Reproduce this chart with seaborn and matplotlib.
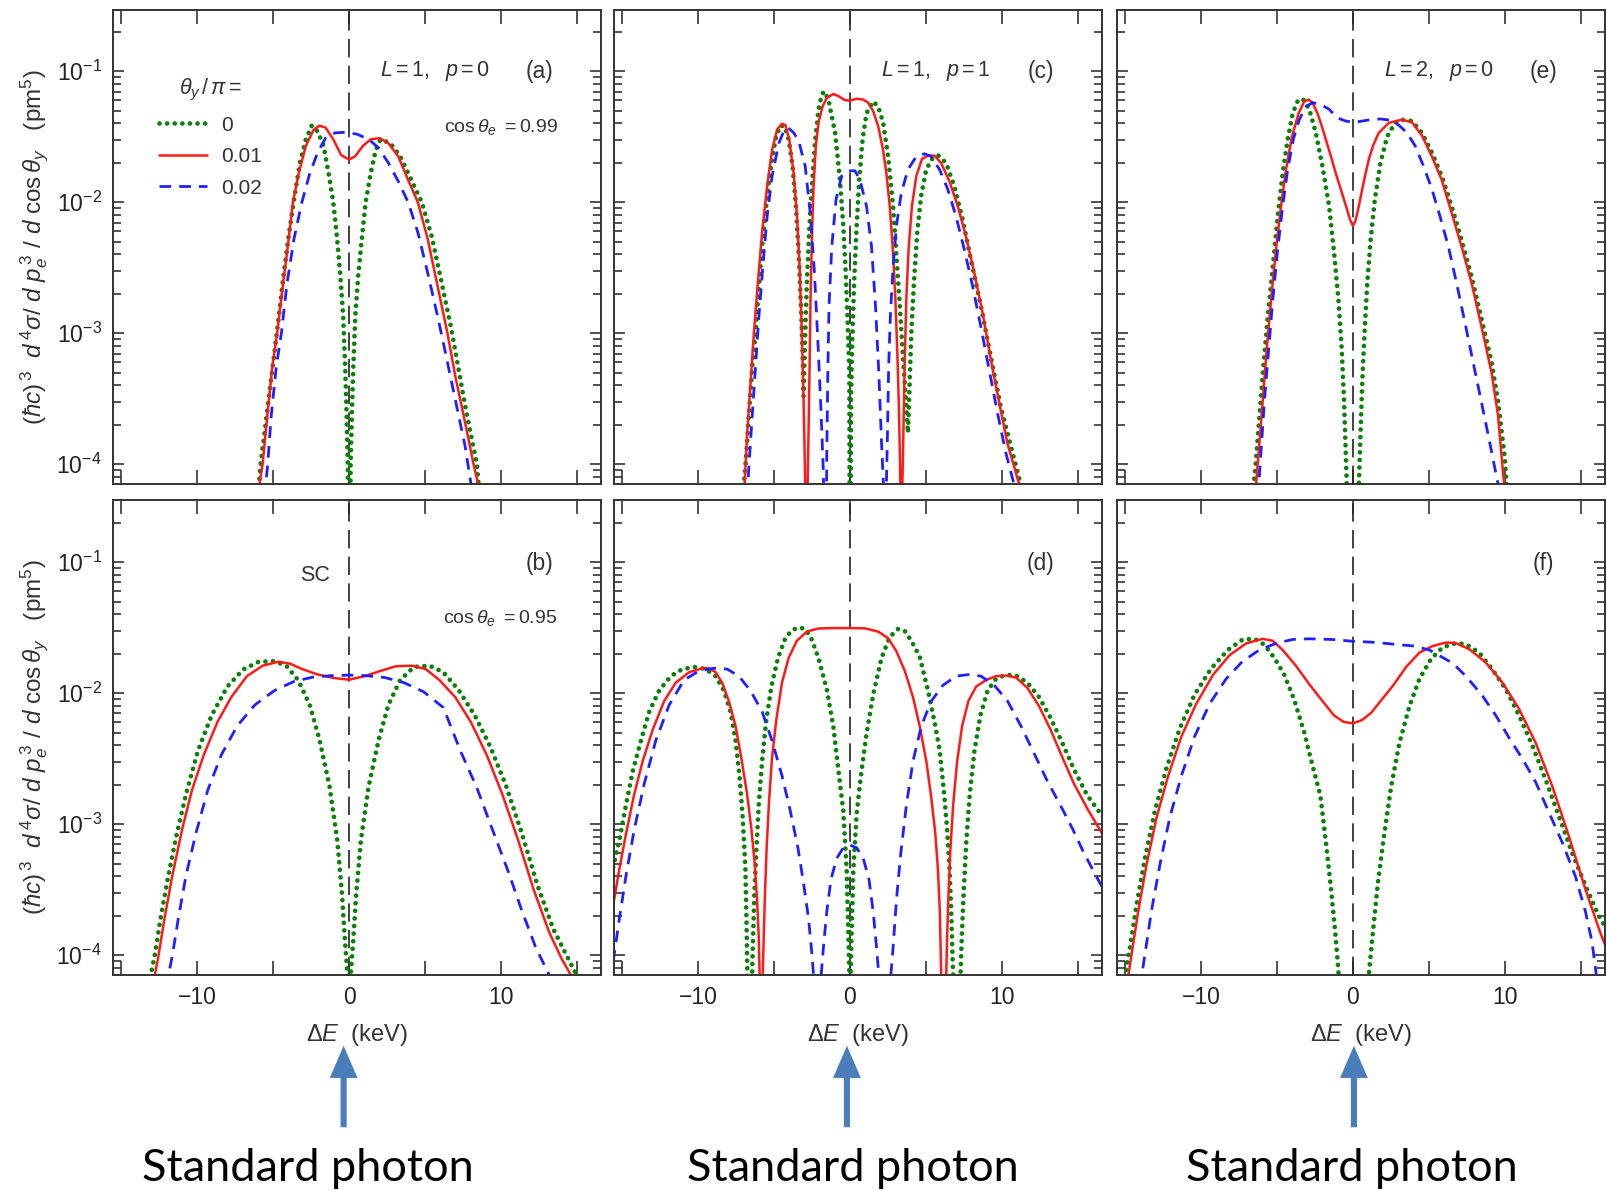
import numpy as np
import matplotlib
matplotlib.use("Agg")
import matplotlib.pyplot as plt
from matplotlib.patches import FancyArrowPatch
from matplotlib.ticker import LogLocator, NullFormatter
import seaborn as sns

# points: (dE in keV, log10 of the cross section)
# theta_y/pi = 0 (green dots), 0.01 (red line), 0.02 (blue dashes)

A_T0 = [(-6.1, -4.4), (-5.83, -4.0), (-5.57, -3.76), (-5.31, -3.51), (-4.92, -3.15), (-4.66, -2.9),
        (-4.35, -2.59), (-4.02, -2.29), (-3.63, -1.98), (-3.24, -1.70), (-2.85, -1.52), (-2.46, -1.415),
        (-2.07, -1.46), (-1.68, -1.57), (-1.35, -1.78), (-1.04, -2.0), (-0.78, -2.29), (-0.57, -2.57),
        (-0.39, -2.87), (-0.26, -3.25), (-0.16, -3.63), (-0.08, -4.02), (0.0, -6.0), (0.1, -4.02),
        (0.18, -3.63), (0.28, -3.25), (0.41, -2.87), (0.6, -2.56), (0.83, -2.29), (1.09, -2.0),
        (1.42, -1.78), (1.76, -1.6), (2.07, -1.52), (2.72, -1.55), (3.37, -1.65), (4.02, -1.81),
        (4.79, -2.0), (5.44, -2.26), (6.09, -2.61), (6.74, -2.97), (7.25, -3.3), (7.77, -3.63),
        (8.42, -4.0), (8.7, -4.4)]
A_T1 = [(-6.0, -4.4), (-5.9, -4.15), (-5.7, -4.0), (-5.39, -3.63), (-5.05, -3.25), (-4.74, -3.0),
        (-4.35, -2.62), (-4.02, -2.32), (-3.7, -2.0), (-3.32, -1.78), (-2.85, -1.57), (-2.33, -1.445),
        (-1.94, -1.415), (-1.55, -1.43), (-1.04, -1.52), (-0.52, -1.64), (0.0, -1.674), (0.39, -1.65),
        (0.91, -1.57), (1.42, -1.52), (2.02, -1.51), (2.59, -1.55), (3.24, -1.65), (3.89, -1.83),
        (4.53, -2.0), (5.18, -2.28), (5.83, -2.64), (6.48, -3.0), (7.0, -3.33), (7.64, -3.68),
        (8.2, -4.0), (8.5, -4.15), (8.7, -4.3)]
A_T2 = [(-5.6, -4.4), (-5.49, -4.15), (-5.36, -4.0), (-5.13, -3.63), (-4.79, -3.25), (-4.46, -3.0),
        (-4.09, -2.62), (-3.63, -2.28), (-3.11, -2.0), (-2.59, -1.78), (-2.07, -1.62), (-1.55, -1.51),
        (-0.91, -1.47), (-0.26, -1.466), (0.52, -1.48), (1.3, -1.52), (1.94, -1.585), (2.59, -1.70),
        (3.24, -1.84), (3.89, -2.0), (4.53, -2.23), (5.18, -2.54), (5.83, -2.87), (6.35, -3.15),
        (7.0, -3.51), (7.64, -3.86), (8.03, -4.15), (8.2, -4.3)]

B_T0 = [(-13.3, -4.4), (-13.07, -4.155), (-12.8, -4.0), (-12.42, -3.72), (-11.9, -3.39), (-11.38, -3.09),
        (-10.74, -2.77), (-9.96, -2.44), (-9.06, -2.17), (-8.02, -1.95), (-6.99, -1.82), (-5.95, -1.76),
        (-4.92, -1.756), (-4.14, -1.79), (-3.36, -1.90), (-2.59, -2.09), (-1.94, -2.36), (-1.29, -2.71),
        (-0.78, -3.12), (-0.47, -3.53), (-0.26, -3.91), (-0.1, -4.155), (0.0, -6.0), (0.1, -4.155),
        (0.26, -3.91), (0.47, -3.53), (0.78, -3.12), (1.29, -2.71), (1.94, -2.36), (2.59, -2.09),
        (3.36, -1.90), (4.27, -1.80), (5.3, -1.79), (6.21, -1.84), (7.24, -1.98), (8.28, -2.17),
        (9.31, -2.41), (10.35, -2.71), (11.38, -3.07), (12.42, -3.47), (13.45, -3.80), (14.23, -3.98),
        (15.0, -4.155), (15.3, -4.4)]
B_T1 = [(-13.0, -4.4), (-12.8, -4.155), (-12.55, -4.0), (-12.16, -3.72), (-11.64, -3.39), (-11.0, -3.04),
        (-10.35, -2.74), (-9.57, -2.47), (-8.67, -2.22), (-7.76, -2.03), (-6.73, -1.87), (-5.69, -1.79),
        (-4.66, -1.76), (-3.88, -1.775), (-3.1, -1.816), (-2.07, -1.857), (-1.03, -1.884), (0.0, -1.897),
        (1.03, -1.87), (2.07, -1.83), (3.1, -1.794), (4.14, -1.79), (5.05, -1.816), (5.95, -1.9),
        (6.99, -2.03), (8.02, -2.22), (9.06, -2.47), (10.09, -2.77), (11.13, -3.12), (12.16, -3.5),
        (13.2, -3.83), (13.97, -4.02), (14.62, -4.155), (14.9, -4.4)]
B_T2 = [(-12.1, -4.4), (-11.9, -4.155), (-11.64, -4.0), (-11.25, -3.72), (-10.74, -3.39), (-10.09, -3.07),
        (-9.31, -2.74), (-8.41, -2.47), (-7.37, -2.25), (-6.21, -2.09), (-4.92, -1.98), (-3.62, -1.91),
        (-2.33, -1.876), (-1.03, -1.865), (0.0, -1.862), (1.03, -1.866), (2.33, -1.88), (3.62, -1.92),
        (4.92, -1.99), (6.21, -2.11), (7.37, -2.45), (8.41, -2.72), (9.44, -3.04), (10.48, -3.36),
        (11.38, -3.66), (12.29, -3.94), (13.2, -4.155), (13.4, -4.4)]

C_T0 = [(-7.1, -4.4), (-6.99, -4.15), (-6.88, -4.0), (-6.66, -3.63), (-6.44, -3.25), (-6.22, -3.0),
        (-6.0, -2.64), (-5.79, -2.34), (-5.57, -2.08), (-5.35, -1.85), (-5.13, -1.67), (-4.87, -1.50),
        (-4.59, -1.415), (-4.30, -1.42), (-4.04, -1.52), (-3.78, -1.725), (-3.56, -2.03), (-3.38, -2.39),
        (-3.23, -2.79), (-3.12, -3.15), (-3.06, -3.48), (-2.95, -3.0), (-2.84, -2.62), (-2.69, -2.23),
        (-2.51, -1.88), (-2.29, -1.52), (-2.07, -1.29), (-1.86, -1.18), (-1.70, -1.153), (-1.42, -1.216),
        (-0.98, -1.47), (-0.66, -1.83), (-0.44, -2.18), (-0.28, -2.54), (-0.15, -2.92), (-0.04, -3.30),
        (0.0, -6.0), (0.07, -3.5), (0.15, -3.05), (0.28, -2.59), (0.44, -2.18), (0.61, -1.83),
        (0.83, -1.52), (1.09, -1.32), (1.53, -1.23), (1.86, -1.27), (2.18, -1.39), (2.51, -1.65),
        (2.84, -2.03), (3.06, -2.41), (3.28, -2.79), (3.49, -3.18), (3.71, -3.56), (3.82, -3.76),
        (3.93, -3.38), (4.04, -3.0), (4.21, -2.62), (4.43, -2.23), (4.69, -1.95), (5.02, -1.75),
        (5.46, -1.66), (5.83, -1.644), (6.33, -1.70), (6.88, -1.88), (7.42, -2.13), (7.97, -2.44),
        (8.62, -2.79), (9.28, -3.18), (9.93, -3.56), (10.59, -3.86), (11.24, -4.15), (11.5, -4.3)]
C_T1 = [(-7.05, -4.4), (-6.94, -4.15), (-6.77, -3.76), (-6.55, -3.38), (-6.33, -3.0), (-6.07, -2.62),
        (-5.79, -2.23), (-5.46, -1.88), (-5.13, -1.6), (-4.8, -1.445), (-4.48, -1.40), (-4.26, -1.41),
        (-4.0, -1.52), (-3.71, -1.78), (-3.49, -2.11), (-3.32, -2.49), (-3.17, -3.0), (-3.06, -3.5),
        (-2.99, -3.89), (-2.95, -4.15), (-2.88, -6.0), (-2.79, -4.15), (-2.73, -3.76), (-2.66, -3.25),
        (-2.6, -2.74), (-2.51, -2.28), (-2.4, -1.88), (-2.25, -1.57), (-2.07, -1.39), (-1.81, -1.27),
        (-1.53, -1.204), (-1.09, -1.173), (-0.76, -1.19), (-0.33, -1.22), (0.0, -1.224), (0.44, -1.21),
        (0.87, -1.216), (1.2, -1.24), (1.53, -1.305), (1.86, -1.42), (2.18, -1.6), (2.4, -1.78),
        (2.62, -2.03), (2.84, -2.39), (2.99, -2.74), (3.12, -3.15), (3.21, -3.51), (3.28, -3.89),
        (3.32, -4.15), (3.39, -6.0), (3.45, -4.15), (3.52, -3.76), (3.6, -3.25), (3.71, -2.74),
        (3.86, -2.36), (4.08, -2.03), (4.37, -1.80), (4.74, -1.67), (5.13, -1.644), (5.57, -1.644),
        (6.0, -1.70), (6.55, -1.84), (7.1, -2.03), (7.64, -2.26), (8.19, -2.54), (8.73, -2.84),
        (9.28, -3.2), (9.83, -3.53), (10.37, -3.84), (11.14, -4.15), (11.4, -4.3)]
C_T2 = [(-6.85, -4.4), (-6.72, -4.15), (-6.66, -4.02), (-6.44, -3.63), (-6.22, -3.25), (-6.0, -2.87),
        (-5.74, -2.49), (-5.46, -2.11), (-5.13, -1.80), (-4.69, -1.55), (-4.37, -1.46), (-4.08, -1.43),
        (-3.71, -1.47), (-3.38, -1.53), (-2.95, -1.725), (-2.62, -2.08), (-2.34, -2.54), (-2.12, -3.05),
        (-1.92, -3.56), (-1.75, -4.07), (-1.62, -6.0), (-1.53, -3.94), (-1.46, -3.30), (-1.38, -2.79),
        (-1.2, -2.34), (-0.92, -1.98), (-0.55, -1.80), (-0.11, -1.76), (0.33, -1.76), (0.66, -1.83),
        (1.09, -2.03), (1.42, -2.34), (1.68, -2.79), (1.9, -3.3), (2.07, -3.81), (2.2, -4.15),
        (2.3, -6.0), (2.4, -4.15), (2.47, -3.76), (2.55, -3.25), (2.66, -2.87), (2.84, -2.49),
        (3.06, -2.18), (3.38, -1.93), (3.82, -1.75), (4.37, -1.65), (4.91, -1.63), (5.35, -1.65),
        (5.9, -1.75), (6.44, -1.9), (6.99, -2.11), (7.53, -2.36), (8.08, -2.64), (8.62, -2.95),
        (9.17, -3.28), (9.72, -3.61), (10.26, -3.91), (10.8, -4.15), (11.0, -4.3)]

D_T0 = [(-15.6, -3.33), (-15.19, -3.12), (-14.75, -2.85), (-14.32, -2.6), (-13.77, -2.36), (-13.22, -2.14),
        (-12.57, -1.98), (-11.8, -1.87), (-11.04, -1.816), (-10.16, -1.80), (-9.51, -1.816), (-8.85, -1.87),
        (-8.31, -1.98), (-7.87, -2.14), (-7.54, -2.36), (-7.28, -2.63), (-7.06, -2.96), (-6.89, -3.34),
        (-6.82, -3.72), (-6.78, -4.0), (-6.76, -4.155), (-6.6, -6.0), (-6.45, -4.155), (-6.38, -3.85),
        (-6.3, -3.53), (-6.16, -3.18), (-6.01, -2.85), (-5.79, -2.52), (-5.53, -2.22), (-5.18, -1.95),
        (-4.74, -1.73), (-4.26, -1.58), (-3.83, -1.52), (-3.43, -1.50), (-3.06, -1.505), (-2.62, -1.56),
        (-2.08, -1.73), (-1.53, -1.97), (-1.09, -2.26), (-0.72, -2.63), (-0.44, -2.90), (-0.22, -3.35),
        (-0.11, -3.81), (-0.04, -4.155), (0.0, -6.0), (0.04, -4.155), (0.11, -3.81), (0.22, -3.35),
        (0.44, -2.92), (0.72, -2.63), (1.09, -2.31), (1.53, -2.01), (2.08, -1.73), (2.62, -1.57),
        (3.17, -1.51), (3.61, -1.525), (4.04, -1.6), (4.59, -1.72), (5.14, -1.98), (5.57, -2.22),
        (5.9, -2.43), (6.18, -2.74), (6.4, -3.04), (6.56, -3.34), (6.67, -3.67), (6.75, -3.99),
        (6.8, -4.155), (7.0, -6.0), (7.28, -4.155), (7.37, -3.85), (7.5, -3.5), (7.67, -3.12),
        (7.89, -2.77), (8.2, -2.44), (8.59, -2.17), (9.07, -1.98), (9.62, -1.89), (10.27, -1.86),
        (10.93, -1.865), (11.69, -1.92), (12.46, -2.03), (13.22, -2.19), (13.99, -2.38), (14.75, -2.58),
        (15.63, -2.78), (16.7, -2.95)]
D_T1 = [(-15.6, -3.62), (-15.19, -3.34), (-14.75, -3.07), (-14.21, -2.77), (-13.66, -2.52), (-13.0, -2.28),
        (-12.24, -2.06), (-11.48, -1.92), (-10.6, -1.84), (-9.73, -1.81), (-9.29, -1.81), (-8.85, -1.84),
        (-8.42, -1.92), (-7.98, -2.06), (-7.54, -2.25), (-7.15, -2.5), (-6.78, -2.77), (-6.49, -3.04),
        (-6.27, -3.31), (-6.12, -3.58), (-6.01, -3.86), (-5.95, -4.155), (-5.85, -6.0), (-5.75, -4.155),
        (-5.68, -3.86), (-5.6, -3.53), (-5.49, -3.18), (-5.33, -2.82), (-5.14, -2.5), (-4.85, -2.2),
        (-4.48, -1.92), (-4.04, -1.73), (-3.5, -1.6), (-2.84, -1.53), (-2.08, -1.506), (-1.2, -1.503),
        (0.0, -1.503), (0.98, -1.505), (1.86, -1.53), (2.51, -1.58), (3.06, -1.68), (3.61, -1.83),
        (4.15, -2.03), (4.59, -2.25), (5.03, -2.52), (5.36, -2.8), (5.62, -3.07), (5.79, -3.34),
        (5.92, -3.67), (6.01, -4.155), (6.17, -6.0), (6.34, -4.155), (6.4, -3.86), (6.49, -3.53),
        (6.62, -3.18), (6.8, -2.85), (7.06, -2.52), (7.39, -2.25), (7.8, -2.06), (8.31, -1.95),
        (8.96, -1.90), (9.62, -1.87), (10.27, -1.865), (10.93, -1.88), (11.69, -1.96), (12.46, -2.1),
        (13.22, -2.28), (13.99, -2.49), (14.75, -2.69), (15.63, -2.88), (16.7, -3.09)]
D_T2 = [(-15.6, -4.05), (-15.19, -3.72), (-14.75, -3.39), (-14.21, -3.04), (-13.55, -2.69), (-12.79, -2.36),
        (-11.91, -2.09), (-10.93, -1.90), (-9.95, -1.83), (-8.96, -1.81), (-8.09, -1.816), (-7.32, -1.87),
        (-6.56, -1.98), (-5.79, -2.14), (-5.14, -2.36), (-4.48, -2.63), (-3.93, -2.90), (-3.43, -3.18),
        (-3.06, -3.45), (-2.73, -3.72), (-2.51, -3.99), (-2.4, -4.155), (-2.15, -6.0), (-1.9, -4.155),
        (-1.75, -3.94), (-1.53, -3.67), (-1.25, -3.42), (-0.87, -3.26), (-0.44, -3.18), (0.0, -3.16),
        (0.44, -3.18), (0.87, -3.26), (1.25, -3.42), (1.53, -3.67), (1.75, -3.94), (1.9, -4.155),
        (2.3, -6.0), (2.69, -4.155), (2.84, -3.94), (3.06, -3.58), (3.34, -3.23), (3.72, -2.85),
        (4.15, -2.52), (4.7, -2.25), (5.36, -2.06), (6.12, -1.94), (6.99, -1.87), (7.87, -1.857),
        (8.63, -1.87), (9.51, -1.94), (10.38, -2.06), (11.26, -2.25), (12.13, -2.46), (13.0, -2.67),
        (13.88, -2.86), (14.64, -3.03), (15.41, -3.22), (16.7, -3.5)]

E_T0 = [(-6.7, -4.4), (-6.53, -4.15), (-6.38, -3.96), (-6.16, -3.63), (-5.9, -3.25), (-5.61, -2.87),
        (-5.28, -2.49), (-4.96, -2.11), (-4.63, -1.78), (-4.3, -1.52), (-3.97, -1.32), (-3.6, -1.216),
        (-3.28, -1.216), (-2.88, -1.29), (-2.45, -1.47), (-2.01, -1.725), (-1.57, -2.03), (-1.24, -2.39),
        (-0.96, -2.74), (-0.74, -3.12), (-0.59, -3.51), (-0.48, -3.89), (-0.41, -4.15), (0.0, -6.0),
        (0.39, -4.15), (0.5, -3.76), (0.61, -3.38), (0.76, -3.0), (0.94, -2.62), (1.16, -2.29),
        (1.44, -1.98), (1.81, -1.70), (2.25, -1.50), (2.79, -1.39), (3.34, -1.37), (3.89, -1.38),
        (4.54, -1.47), (5.2, -1.62), (5.85, -1.80), (6.5, -2.03), (7.16, -2.29), (7.82, -2.57),
        (8.47, -2.89), (9.13, -3.22), (9.56, -3.52), (10.0, -3.95), (10.2, -4.3)]
E_T1 = [(-6.5, -4.4), (-6.38, -4.15), (-6.2, -3.89), (-5.94, -3.51), (-5.68, -3.12), (-5.39, -2.74),
        (-5.07, -2.36), (-4.74, -2.03), (-4.41, -1.75), (-4.02, -1.5), (-3.58, -1.32), (-3.21, -1.23),
        (-2.93, -1.216), (-2.66, -1.24), (-2.34, -1.32), (-2.05, -1.42), (-1.79, -1.52), (-1.45, -1.65),
        (-1.14, -1.776), (-0.83, -1.89), (-0.59, -1.98), (-0.38, -2.06), (-0.2, -2.13), (0.0, -2.18),
        (0.17, -2.14), (0.35, -2.05), (0.61, -1.90), (0.83, -1.78), (1.05, -1.67), (1.35, -1.56),
        (1.7, -1.47), (2.36, -1.394), (3.23, -1.369), (3.89, -1.39), (4.54, -1.49), (5.2, -1.65),
        (5.85, -1.83), (6.5, -2.08), (7.16, -2.34), (7.82, -2.62), (8.47, -2.95), (9.13, -3.30),
        (9.56, -3.63), (9.89, -4.07), (10.1, -4.3)]
E_T2 = [(-6.35, -4.4), (-6.2, -4.15), (-6.05, -3.89), (-5.83, -3.51), (-5.55, -3.12), (-5.28, -2.74),
        (-4.96, -2.36), (-4.63, -2.03), (-4.3, -1.75), (-3.93, -1.52), (-3.54, -1.37), (-3.1, -1.27),
        (-2.66, -1.24), (-2.12, -1.254), (-1.57, -1.29), (-1.03, -1.356), (-0.48, -1.38), (0.07, -1.39),
        (0.61, -1.38), (1.16, -1.37), (1.81, -1.364), (2.47, -1.374), (3.01, -1.41), (3.56, -1.47),
        (4.1, -1.57), (4.65, -1.725), (5.2, -1.90), (5.74, -2.11), (6.29, -2.34), (6.83, -2.62),
        (7.38, -2.92), (7.93, -3.23), (8.47, -3.53), (9.02, -3.84), (9.45, -4.09), (9.56, -4.15),
        (9.7, -4.3)]

F_T0 = [(-15.3, -4.4), (-15.02, -4.16), (-14.69, -3.94), (-14.25, -3.61), (-13.7, -3.26), (-13.05, -2.90),
        (-12.28, -2.57), (-11.41, -2.27), (-10.43, -2.01), (-9.33, -1.81), (-8.24, -1.67), (-7.26, -1.59),
        (-6.49, -1.585), (-5.84, -1.63), (-5.18, -1.73), (-4.52, -1.86), (-3.87, -2.05), (-3.21, -2.30),
        (-2.67, -2.55), (-2.15, -2.78), (-1.8, -3.12), (-1.45, -3.49), (-1.17, -3.82), (-0.97, -4.1),
        (0.0, -6.0), (1.05, -4.14), (1.31, -3.83), (1.64, -3.45), (2.08, -3.06), (2.52, -2.71),
        (3.06, -2.38), (3.72, -2.10), (4.38, -1.89), (5.14, -1.74), (5.91, -1.65), (6.78, -1.618),
        (7.44, -1.626), (8.31, -1.69), (9.19, -1.82), (10.07, -1.97), (10.94, -2.17), (11.82, -2.40),
        (12.69, -2.66), (13.57, -2.94), (14.44, -3.22), (15.32, -3.47), (16.19, -3.70), (16.7, -3.8)]
F_T1 = [(-15.0, -4.4), (-14.8, -4.16), (-14.58, -3.99), (-14.14, -3.66), (-13.6, -3.31), (-12.94, -2.95),
        (-12.17, -2.63), (-11.3, -2.33), (-10.32, -2.08), (-9.22, -1.86), (-8.13, -1.71), (-7.04, -1.62),
        (-5.95, -1.585), (-5.29, -1.60), (-4.63, -1.67), (-3.76, -1.79), (-2.89, -1.93), (-2.01, -2.06),
        (-1.25, -2.17), (-0.6, -2.22), (0.0, -2.23), (0.6, -2.205), (1.2, -2.15), (1.75, -2.07),
        (2.63, -1.944), (3.5, -1.80), (4.38, -1.69), (5.25, -1.64), (6.13, -1.613), (6.78, -1.618),
        (7.66, -1.664), (8.75, -1.766), (9.85, -1.92), (10.94, -2.12), (12.04, -2.38), (13.13, -2.71),
        (14.22, -3.09), (15.32, -3.50), (16.3, -3.83), (16.7, -3.95)]
F_T2 = [(-14.1, -4.4), (-13.92, -4.16), (-13.7, -3.99), (-13.27, -3.66), (-12.72, -3.31), (-12.07, -2.95),
        (-11.3, -2.63), (-10.43, -2.33), (-9.44, -2.08), (-8.35, -1.89), (-7.26, -1.755), (-6.16, -1.67),
        (-5.07, -1.62), (-3.98, -1.59), (-2.89, -1.585), (-1.36, -1.59), (0.0, -1.604), (1.5, -1.612),
        (2.84, -1.628), (4.0, -1.64), (5.03, -1.67), (6.56, -1.77), (7.44, -1.87), (8.53, -2.02),
        (9.41, -2.17), (10.28, -2.34), (11.16, -2.50), (12.04, -2.68), (12.91, -2.91), (13.79, -3.14),
        (14.66, -3.40), (15.32, -3.67), (15.75, -3.90), (16.02, -4.14), (16.2, -4.4)]

THETA_LABELS = ["0", "0.01", "0.02"]
PANEL_TAGS = ["(a)", "(b)", "(c)", "(d)", "(e)", "(f)"]
PANEL_HEADS = [r"$L=1,\ \ p=0$", "", r"$L=1,\ \ p=1$", "", r"$L=2,\ \ p=0$", ""]
COS_TEXTS = [r"$\cos\theta_e\ = 0.99$", r"$\cos\theta_e\ = 0.95$"]
X_TICKS = [-15, -10, -5, 0, 5, 10, 15]
X_TICK_LABELS = ["", "\u221210", "", "0", "", "10", ""]
Y_TICKS = [1e-4, 1e-3, 1e-2, 1e-1]
Y_TICK_LABELS = [r"$10^{-4}$", r"$10^{-3}$", r"$10^{-2}$", r"$10^{-1}$"]
PHOTON_TEXT = "Standard photon"

sns.set_theme(style="ticks")
plt.rcParams["font.family"] = ["Liberation Sans", "DejaVu Sans"]
plt.rcParams["mathtext.fontset"] = "custom"
plt.rcParams["mathtext.rm"] = "Liberation Sans"
plt.rcParams["mathtext.it"] = "Liberation Sans:italic"
plt.rcParams["mathtext.bf"] = "Liberation Sans:bold"
plt.rcParams["mathtext.sf"] = "Liberation Sans"

STYLES = [
    dict(color="#0b800b", linewidth=3.4, linestyle=(0, (0.01, 1.6)), dash_capstyle="round"),
    dict(color="#ff1a1a", linewidth=1.8, linestyle="-"),
    dict(color="#1f1fff", linewidth=2.0, linestyle=(0, (4.2, 2.9))),
]
TXT = "#333333"

fig = plt.figure(figsize=(16.08, 11.91), dpi=100)
lefts = [0.0703, 0.3818, 0.6946]
bottoms = [0.5936, 0.1814]
W, H = 0.3035, 0.3984

panels = [
    (A_T0, A_T1, A_T2), (B_T0, B_T1, B_T2),
    (C_T0, C_T1, C_T2), (D_T0, D_T1, D_T2),
    (E_T0, E_T1, E_T2), (F_T0, F_T1, F_T2),
]

for k, curves in enumerate(panels):
    col, row = k // 2, k % 2
    ax = fig.add_axes([lefts[col], bottoms[row], W, H])
    ax.set_yscale("log")
    ax.axvline(0, color="#222222", lw=1.2, ls=(0, (11, 5)), zorder=1.5)
    for pts, st, lab in zip(curves, STYLES, THETA_LABELS):
        xs, lg = np.array(pts).T
        sns.lineplot(x=xs, y=np.power(10.0, lg), ax=ax, sort=False, estimator=None,
                     label=lab if k == 0 else None, legend=False, zorder=2, **st)
    ax.set_xlim(-15.55, 16.6)
    ax.set_ylim(7.06e-5, 0.296)

    ax.set_xticks(X_TICKS)
    ax.set_xticklabels(X_TICK_LABELS if row == 1 else [""] * len(X_TICKS))
    ax.set_yticks(Y_TICKS)
    ax.set_yticklabels(Y_TICK_LABELS if col == 0 else [""] * len(Y_TICKS))
    ax.yaxis.set_minor_locator(LogLocator(base=10, subs=np.arange(2, 10), numticks=20))
    ax.yaxis.set_minor_formatter(NullFormatter())
    ax.tick_params(which="both", direction="in", top=True, right=True, color="#333333", width=1.2)
    ax.tick_params(axis="x", which="major", length=10, pad=8, labelsize=16.5, labelcolor="#222222")
    ax.tick_params(axis="y", which="major", length=8, pad=8, labelsize=16.5, labelcolor="#222222")
    ax.tick_params(axis="y", which="minor", length=6)
    for sp in ax.spines.values():
        sp.set_color("#333333")
        sp.set_linewidth(1.4)
    ax.set_xlabel("")
    ax.set_ylabel("")

    if col == 0:
        ax.set_ylabel(r"$(\hbar c)^{\,3}\ \ d^{\,4}\sigma/\ d\ p_e^{\,3}\ /\ d\ \cos\theta_y$   (pm$^5$)",
                      fontsize=17.5, color=TXT)
        ax.yaxis.set_label_coords(-0.13, 0.5)
    if row == 1:
        ax.set_xlabel(r"$\Delta E$  (keV)", fontsize=17, color=TXT)
        ax.xaxis.set_label_coords(0.5, -0.1)

    ax.text(0.874, 0.870 if row == 0 else 0.868, PANEL_TAGS[k], transform=ax.transAxes,
            ha="center", va="center", fontsize=16.5, color=TXT)
    if PANEL_HEADS[k]:
        ax.text(0.66, 0.870, PANEL_HEADS[k], transform=ax.transAxes,
                ha="center", va="center", fontsize=15.5, color=TXT)
    if col == 0:
        ax.text(0.794, 0.753, COS_TEXTS[row], transform=ax.transAxes,
                ha="center", va="center", fontsize=14, color=TXT)
    if k == 1:
        ax.text(0.413, 0.842, "SC", transform=ax.transAxes,
                ha="center", va="center", fontsize=15.5, color=TXT)
    if k == 0:
        leg = ax.legend(loc="upper left", bbox_to_anchor=(0.06, 0.893), frameon=False,
                        title=r"$\theta_y\,/\,\pi =$", fontsize=15, title_fontsize=15.5,
                        handlelength=2.3, handletextpad=0.7, labelspacing=0.6, borderpad=0.3)
        leg.get_title().set_color(TXT)
        for t in leg.get_texts():
            t.set_color(TXT)

# arrows pointing at the standard photon position
arrow_x = [0.2137, 0.5267, 0.842]
text_x = [0.1914, 0.5305, 0.8408]
for ax_, tx_ in zip(arrow_x, text_x):
    arr = FancyArrowPatch((ax_, 0.0512), (ax_, 0.1243), transform=fig.transFigure,
                          arrowstyle="simple,head_length=0.58,head_width=0.5,tail_width=0.11",
                          mutation_scale=40, color="#4a7ebb", lw=0)
    fig.patches.append(arr)
    fig.text(tx_, 0.0085, PHOTON_TEXT, ha="center", va="baseline",
             fontsize=32.5, family="Lato", color="black")

fig.savefig("out.png", dpi=100)
